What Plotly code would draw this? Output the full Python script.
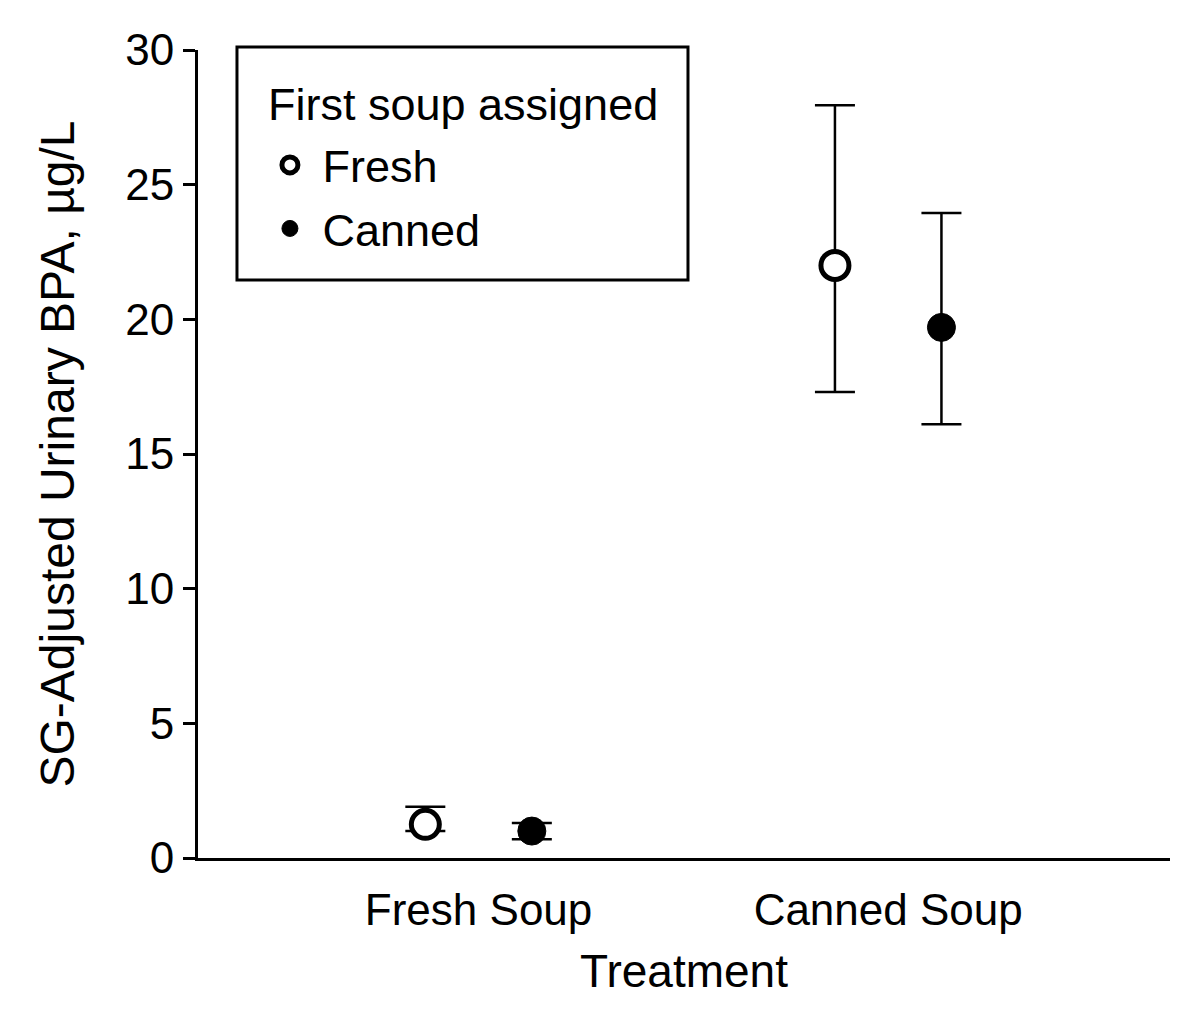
import plotly.graph_objects as go

# group positions on a numeric axis, labels drawn as ticktext
categories = ["Fresh Soup", "Canned Soup"]
group_pos = [1, 2]
offset = 0.13

# first soup assigned = Fresh (open circles)
fresh_mean = [1.25, 22.0]
fresh_upper = [1.9, 27.95]
fresh_lower = [1.0, 17.3]

# first soup assigned = Canned (filled circles)
canned_mean = [1.0, 19.7]
canned_upper = [1.3, 23.95]
canned_lower = [0.7, 16.1]

y_ticks = [0, 5, 10, 15, 20, 25, 30]

FONT = "Liberation Sans, Arial, sans-serif"


def err(mean, upper, lower):
    return dict(
        type="data",
        symmetric=False,
        array=[u - m for u, m in zip(upper, mean)],
        arrayminus=[m - l for m, l in zip(mean, lower)],
        color="black",
        thickness=2.5,
        width=20,
    )


fig = go.Figure()

fig.add_trace(go.Scatter(
    x=[p - offset for p in group_pos],
    y=fresh_mean,
    mode="markers",
    name="\u00a0Fresh",
    legendgroup="fresh",
    marker=dict(symbol="circle", size=28, color="white",
                line=dict(color="black", width=5)),
    error_y=err(fresh_mean, fresh_upper, fresh_lower),
))

fig.add_trace(go.Scatter(
    x=[p + offset for p in group_pos],
    y=canned_mean,
    mode="markers",
    name="\u00a0Canned",
    legendgroup="canned",
    marker=dict(symbol="circle", size=28, color="black",
                line=dict(color="black", width=1)),
    error_y=err(canned_mean, canned_upper, canned_lower),
))

# legend frame and heading (entries come from the traces)
fig.add_shape(type="rect", xref="paper", yref="paper",
              x0=0.0401, x1=0.5041, y0=0.7153, y1=1.0037,
              line=dict(color="black", width=3), fillcolor="white", layer="below")
fig.add_annotation(text="First soup assigned", xref="paper", yref="paper",
                   x=0.070, y=0.932, xanchor="left", yanchor="middle",
                   showarrow=False, font=dict(size=45))

fig.update_layout(
    width=1200,
    height=1023,
    paper_bgcolor="white",
    plot_bgcolor="white",
    margin=dict(l=190, r=38, t=42, b=173),
    font=dict(family=FONT, color="black"),
    showlegend=True,
    legend=dict(
        x=0.074, y=0.902, xanchor="left", yanchor="top",
        borderwidth=0,
        bgcolor="rgba(0,0,0,0)",
        font=dict(size=45, family=FONT),
        itemsizing="trace",
        tracegroupgap=2,
    ),
)

fig.update_xaxes(
    range=[0.315, 2.688],
    tickvals=group_pos,
    ticktext=categories,
    ticks="",
    showgrid=False,
    zeroline=False,
    showline=True,
    linecolor="black",
    linewidth=3,
    tickfont=dict(size=44),
    ticklabelstandoff=11,
    title=dict(text="Treatment", font=dict(size=46), standoff=23),
)

fig.update_yaxes(
    range=[0, 30],
    tickvals=y_ticks,
    ticks="outside",
    ticklen=12,
    tickwidth=2.5,
    tickcolor="black",
    showgrid=False,
    zeroline=False,
    showline=True,
    linecolor="black",
    linewidth=3,
    tickfont=dict(size=44),
    title=dict(text="SG-Adjusted Urinary BPA, µg/L", font=dict(size=48), standoff=36),
)

fig.write_html("out.html")
